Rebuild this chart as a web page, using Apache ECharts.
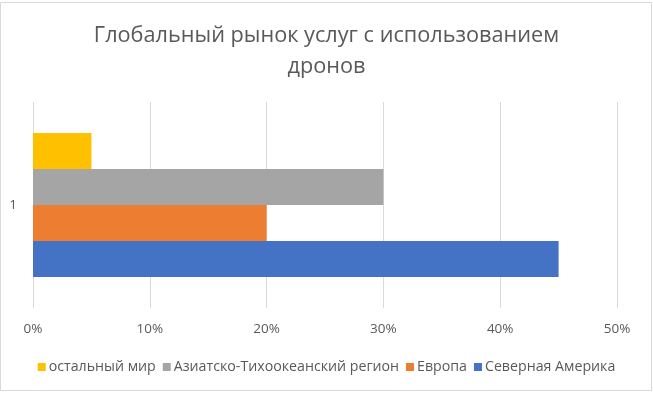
<!DOCTYPE html>
<html><head><meta charset="utf-8">
<script src="https://cdn.jsdelivr.net/npm/echarts@6/dist/echarts.min.js"></script>
<style>html,body{margin:0;padding:0;background:#fff}#c{width:653px;height:397px}</style>
</head><body><div id="c"></div>
<script>
const categories = ['1'];
const seriesNames = ['остальный мир', 'Азиатско-Тихоокеанский регион', 'Европа', 'Северная Америка'];
const seriesValues = [[0.05], [0.30], [0.20], [0.45]];
const seriesColors = ['#FFC000', '#A5A5A5', '#ED7D31', '#4472C4'];
const titleText = 'Глобальный рынок услуг с использованием\nдронов';

const font = '"Open Sans","Noto Sans",sans-serif';
const chart = echarts.init(document.getElementById('c'));
chart.setOption({
  animation: false,
  title: {
    text: titleText, left: 'center', top: 15,
    textStyle: { fontFamily: font, fontSize: 21.7, fontWeight: 'normal', color: '#595959', lineHeight: 31 }
  },
  graphic: [{ type: 'rect', shape: { x: 0.5, y: 2.5, width: 651, height: 388 }, style: { fill: 'none', stroke: '#d9d9d9', lineWidth: 1 }, silent: true }],
  legend: {
    data: seriesNames, bottom: 18, left: 'center',
    itemWidth: 8, itemHeight: 8, itemGap: 7, icon: 'rect',
    textStyle: { fontFamily: font, fontSize: 14.2, color: '#595959', padding: [0, 0, 0, -2] }
  },
  grid: { left: 33, right: 36, top: 102, bottom: 89 },
  xAxis: {
    type: 'value', min: 0, max: 0.5, interval: 0.1,
    axisLabel: { formatter: v => Math.round(v * 100) + '%', fontFamily: font, fontSize: 13.5, color: '#595959', margin: 14 },
    splitLine: { lineStyle: { color: '#d9d9d9' } },
    axisLine: { show: false }, axisTick: { show: false }
  },
  yAxis: {
    type: 'category', data: categories,
    axisLabel: { fontFamily: font, fontSize: 13.5, color: '#595959', margin: 16 },
    axisLine: { show: false }, axisTick: { show: false }
  },
  series: seriesNames.map((n, i) => ({
    name: n, type: 'bar', data: seriesValues[i], barGap: '0%', barCategoryGap: '30%',
    itemStyle: { color: seriesColors[i] }
  }))
});
</script></body></html>
